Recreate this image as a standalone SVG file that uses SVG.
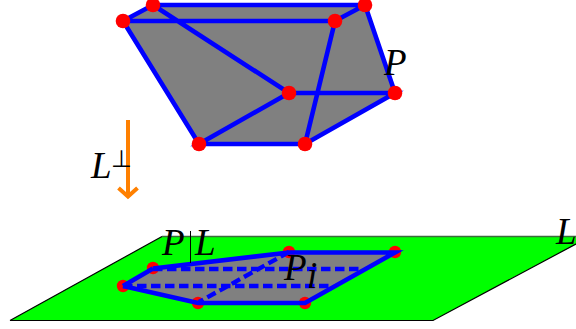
<svg xmlns="http://www.w3.org/2000/svg" width="576" height="329" viewBox="0 0 576 329">
<style>
.t{stroke:#0000ff;stroke-width:4.600;fill:none}
.d{stroke:#0000ff;stroke-width:4.400;fill:none;stroke-dasharray:9.500 4.500}
.v{fill:#ff0000}
.m{font-family:"Liberation Serif",serif;font-style:italic;fill:#000;font-size:37px}
.r{font-family:"DejaVu Sans",sans-serif;fill:#000}
</style>
<g id="plane"><polygon points="162,236.500 590,236.500 433,320.500 10,320.500" fill="#00ff00"/>
<path d="M10,320.500H433L590,236.500" fill="none" stroke="#000" stroke-width="1.200"/><path d="M10,320.500L162,236.500" fill="none" stroke="#000" stroke-width="1.200"/><path d="M162,236.500H576" fill="none" stroke="#3c6b3c" stroke-width="1.500"/></g>
<g id="polytope-shape"><polygon points="123,21 153,5 365,5 395,93 305,144 199,144" fill="#808080"/></g>
<g id="projection-shape"><polygon points="123,286 153,268 289,252 395,252 305,303 198,303" fill="#808080"/></g>
<g id="connectors">
<path class="t" d="M123,21L153,5H365L335,21H123M153,5L289,93H395L305,144H199L289,93M199,144L123,21M365,5L395,93M335,21L305,144"/>
<path d="M128,120V196M118.500,188L128,196.500L137.500,188" fill="none" stroke="#ff8000" stroke-width="4"/>
</g>
<g id="top-vertices">
<circle id="v1" class="v" cx="123" cy="21" r="7.300"/><circle id="v2" class="v" cx="153" cy="5" r="7.300"/><circle id="v3" class="v" cx="365" cy="5" r="7.300"/><circle id="v4" class="v" cx="335" cy="21" r="7.300"/>
<circle id="v5" class="v" cx="289" cy="93" r="7.300"/><circle id="v6" class="v" cx="395" cy="93" r="7.300"/><circle id="v7" class="v" cx="199" cy="144" r="7.300"/><circle id="v8" class="v" cx="305" cy="144" r="7.300"/>
</g>
<g id="bottom-vertices">
<circle class="v" cx="123" cy="286" r="6.200"/><circle class="v" cx="153" cy="268" r="6.200"/><circle class="v" cx="289" cy="252" r="6.200"/><circle class="v" cx="395" cy="252" r="6.200"/><circle class="v" cx="305" cy="303" r="6.200"/><circle class="v" cx="198" cy="303" r="6.200"/>
<path class="d" d="M153,269H361M123,286H331M289,252L199,302"/>
<path class="t" d="M123,286L153,268.500M153,268.500L289,252.500H395L305,303H198L123,286"/>
</g>
<g id="labels">
<text class="m" x="384" y="75">P</text>
<text class="m" x="91" y="178">L</text>
<text class="r" x="111" y="167" font-size="24">⊥</text>
<text class="m" x="162" y="255">P</text>
<path d="M190.500,231V263" stroke="#000" stroke-width="1"/>
<text class="m" x="195" y="255">L</text>
<text class="m" x="284" y="280">P</text>
<text class="m" x="307" y="288" font-size="17">i</text>
<text class="m" x="556" y="244">L</text>
</g>
</svg>
